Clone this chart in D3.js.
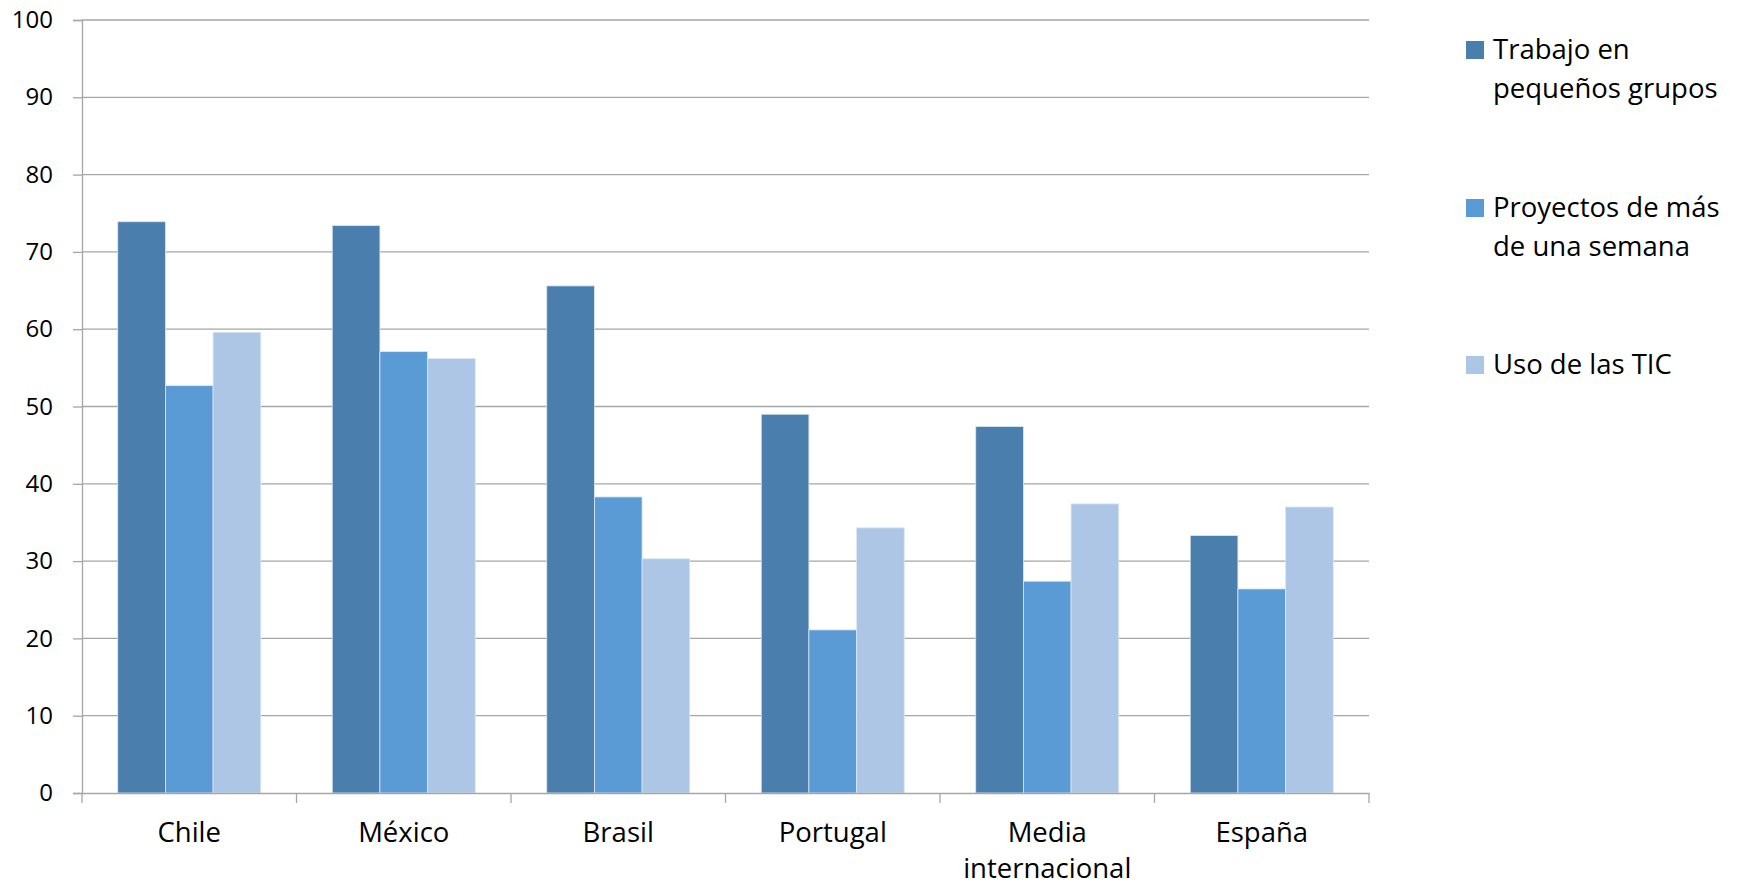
<!DOCTYPE html>
<html><head><meta charset="utf-8">
<script src="https://cdn.jsdelivr.net/npm/d3@7"></script>
<style>body{margin:0;background:#fff}svg{display:block}text{font-family:"Open Sans",Lato,sans-serif;fill:#000}</style>
</head><body>
<script>
const categories = ["Chile","México","Brasil","Portugal","Media internacional","España"];
const seriesNames = ["Trabajo en pequeños grupos","Proyectos de más de una semana","Uso de las TIC"];
const trabajo = [73.9, 73.4, 65.6, 49.0, 47.4, 33.3];
const proyectos = [52.7, 57.1, 38.3, 21.1, 27.4, 26.4];
const tic = [59.6, 56.2, 30.3, 34.3, 37.4, 37.0];
const yTicks = [0,10,20,30,40,50,60,70,80,90,100];
const legendLines = [["Trabajo en","pequeños grupos"],["Proyectos de más","de una semana"],["Uso de las TIC"]];
const colors = ["#4a7ead","#5b9bd5","#adc6e5"];
const series = [trabajo, proyectos, tic];

const W = 1738, H = 886;
const m = {left: 82, right: 1369, top: 20, bottom: 793};
const svg = d3.select("body").append("svg").attr("width", W).attr("height", H);

const x = d3.scaleBand().domain(categories).range([m.left, m.right]).padding(0);
const inner = d3.scaleBand().domain(d3.range(3)).range([0, x.bandwidth()]).paddingOuter(0.75).paddingInner(0);
const y = d3.scaleLinear().domain([0,100]).range([m.bottom, m.top]);

// gridlines
svg.append("g").selectAll("line").data(yTicks.filter(d=>d>0)).join("line")
  .attr("x1", m.left).attr("x2", m.right)
  .attr("y1", d=>y(d)).attr("y2", d=>y(d))
  .attr("stroke", "#a6a6a6").attr("stroke-width", 1.3);

// bars
categories.forEach((c, ci) => {
  series.forEach((s, si) => {
    svg.append("rect")
      .attr("x", x(c) + inner(si))
      .attr("y", y(s[ci]))
      .attr("width", inner.bandwidth())
      .attr("height", y(0) - y(s[ci]))
      .attr("fill", colors[si])
      .attr("stroke", "#dbe6f3").attr("stroke-width", 0.8);
  });
});

// y axis
const yAxis = d3.axisLeft(y).tickValues(yTicks).tickSize(9).tickPadding(20).tickFormat(d3.format("d"));
const ga = svg.append("g").attr("transform", `translate(${m.left},0)`).call(yAxis);
ga.select(".domain").attr("stroke", "#a6a6a6").attr("stroke-width", 1.3);
ga.selectAll(".tick line").attr("stroke", "#a6a6a6").attr("stroke-width", 1.3);
ga.selectAll(".tick text").attr("font-size", 24).attr("font-family", "Open Sans").attr("fill", "#000");

// x axis
const xAxis = d3.axisBottom(x).tickValues([]).tickSizeOuter(0);
const gx = svg.append("g").attr("transform", `translate(0,${m.bottom})`).call(xAxis);
gx.select(".domain").attr("stroke", "#a6a6a6").attr("stroke-width", 1.3);
const bounds = categories.map(c => x(c)).concat([m.right]);
gx.selectAll("line.sep").data(bounds).join("line").attr("class","sep")
  .attr("x1", d=>d).attr("x2", d=>d).attr("y1", 0).attr("y2", 10)
  .attr("stroke", "#a6a6a6").attr("stroke-width", 1.3);
const xl = gx.selectAll("text.cat").data(categories).join("text").attr("class","cat")
  .attr("x", d => x(d) + x.bandwidth()/2).attr("y", 49)
  .attr("text-anchor","middle").attr("font-size", 27.5);
xl.each(function(d){
  const words = d === "Media internacional" ? ["Media","internacional"] : [d];
  d3.select(this).selectAll("tspan").data(words).join("tspan")
    .attr("x", x(d) + x.bandwidth()/2).attr("dy", (w,i)=> i ? 36 : 0).text(w=>w);
});

// legend
const legendY = [59, 217, 374];
const lg = svg.append("g");
legendLines.forEach((lines, i) => {
  lg.append("rect").attr("x", 1466).attr("y", legendY[i]-18).attr("width", 18).attr("height", 18).attr("fill", colors[i]);
  const t = lg.append("text").attr("x", 1493).attr("y", legendY[i]).attr("font-size", 27.5);
  lines.forEach((l, j) => t.append("tspan").attr("x", 1493).attr("dy", j ? 39 : 0).text(l));
});
</script>
</body></html>
